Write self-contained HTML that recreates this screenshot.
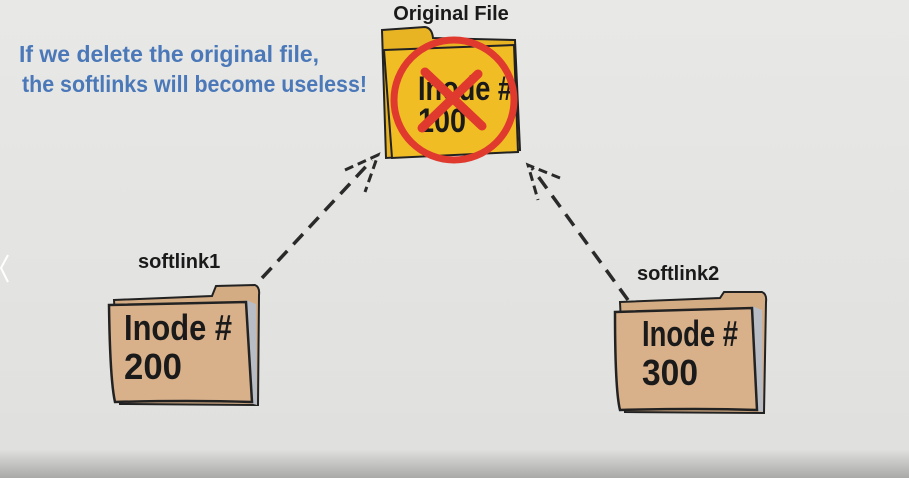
<!DOCTYPE html>
<html><head><meta charset="utf-8"><style>
html,body{margin:0;padding:0;}
body{width:909px;height:478px;overflow:hidden;background:#e5e5e3;}
svg{display:block}
</style></head><body>
<svg width="909" height="478" viewBox="0 0 909 478" xmlns="http://www.w3.org/2000/svg">
<defs>
<linearGradient id="bg" x1="0" y1="0" x2="0" y2="1">
<stop offset="0" stop-color="#e8e8e6"/><stop offset="0.94" stop-color="#e0e0de"/><stop offset="1" stop-color="#a9a9a7"/>
</linearGradient>
</defs>
<rect width="909" height="478" fill="url(#bg)"/>
<path d="M8 255 L1 268 L8 282" fill="none" stroke="#fff" stroke-width="2"/>

<text x="19" y="62" font-family="Liberation Sans, sans-serif" font-size="23" fill="#4a78b8" font-weight="bold" textLength="300" lengthAdjust="spacingAndGlyphs">If we delete the original file,</text>
<text x="22" y="92" font-family="Liberation Sans, sans-serif" font-size="23" fill="#4a78b8" font-weight="bold" textLength="345" lengthAdjust="spacingAndGlyphs">the softlinks will become useless!</text>

<text x="451" y="20" text-anchor="middle" font-family="Liberation Sans, sans-serif" font-size="20" font-weight="bold" fill="#1a1a1a">Original File</text>

<!-- yellow folder -->
<path d="M382 30 L425 27 Q432 28 433 38 L515 40 L520 150 L386 158 Z" fill="#e9b424" stroke="#222" stroke-width="2"/>
<path d="M384 50 L514 45 L518 152 L392 158 Z" fill="#f1bd25" stroke="#222" stroke-width="2"/>
<text x="418" y="100" font-family="Liberation Sans, sans-serif" font-size="34" font-weight="bold" fill="#1a1a1a" textLength="95" lengthAdjust="spacingAndGlyphs">Inode #</text>
<text x="418" y="132" font-family="Liberation Sans, sans-serif" font-size="34" font-weight="bold" fill="#1a1a1a" textLength="48" lengthAdjust="spacingAndGlyphs">100</text>
<circle cx="454" cy="100" r="60" fill="none" stroke="#e03a2e" stroke-width="7"/>
<path d="M425 72 L482 126 M478 74 L422 128" stroke="#e03a2e" stroke-width="9" stroke-linecap="round"/>

<!-- arrows -->
<path d="M262 278 L372 160" stroke="#2a2a2a" stroke-width="3.5" stroke-dasharray="14 9" fill="none"/>
<path d="M345 170 L378 155 L365 192" stroke="#2a2a2a" stroke-width="3" fill="none" stroke-dasharray="9 5"/>
<path d="M628 300 L532 168" stroke="#2a2a2a" stroke-width="3.5" stroke-dasharray="14 9" fill="none"/>
<path d="M560 178 L528 165 L538 200" stroke="#2a2a2a" stroke-width="3" fill="none" stroke-dasharray="9 5"/>

<text x="138" y="268" font-family="Liberation Sans, sans-serif" font-size="20" font-weight="bold" fill="#1a1a1a">softlink1</text>
<text x="637" y="280" font-family="Liberation Sans, sans-serif" font-size="20" font-weight="bold" fill="#1a1a1a">softlink2</text>

<!-- folder 1 -->
<path d="M114 300 L212 296 L216 286 L255 285 Q260 287 259 295 L258 405 L120 404 Z" fill="#d4ac84" stroke="#222" stroke-width="2"/>
<path d="M246 300 L256 304 L257 405 L246 402 Z" fill="#b8bcc4"/>
<path d="M109 305 L246 302 L252 402 Q190 400 115 402 Q110 380 109 305 Z" fill="#d8b08a" stroke="#222" stroke-width="2.5"/>
<text x="124" y="340" font-family="Liberation Sans, sans-serif" font-size="36" font-weight="bold" fill="#1a1a1a" textLength="108" lengthAdjust="spacingAndGlyphs">Inode #</text>
<text x="124" y="379" font-family="Liberation Sans, sans-serif" font-size="36" font-weight="bold" fill="#1a1a1a" textLength="58" lengthAdjust="spacingAndGlyphs">200</text>

<!-- folder 2 -->
<path d="M620 302 L720 298 L724 292 L762 292 Q767 294 766 302 L764 413 L625 412 Z" fill="#d4ac84" stroke="#222" stroke-width="2"/>
<path d="M752 306 L762 310 L763 412 L752 410 Z" fill="#b8bcc4"/>
<path d="M615 312 L752 308 L757 410 Q700 408 620 410 Q615 390 615 312 Z" fill="#d8b08a" stroke="#222" stroke-width="2.5"/>
<text x="642" y="346" font-family="Liberation Sans, sans-serif" font-size="36" font-weight="bold" fill="#1a1a1a" textLength="96" lengthAdjust="spacingAndGlyphs">Inode #</text>
<text x="642" y="385" font-family="Liberation Sans, sans-serif" font-size="36" font-weight="bold" fill="#1a1a1a" textLength="56" lengthAdjust="spacingAndGlyphs">300</text>
</svg>
</body></html>
